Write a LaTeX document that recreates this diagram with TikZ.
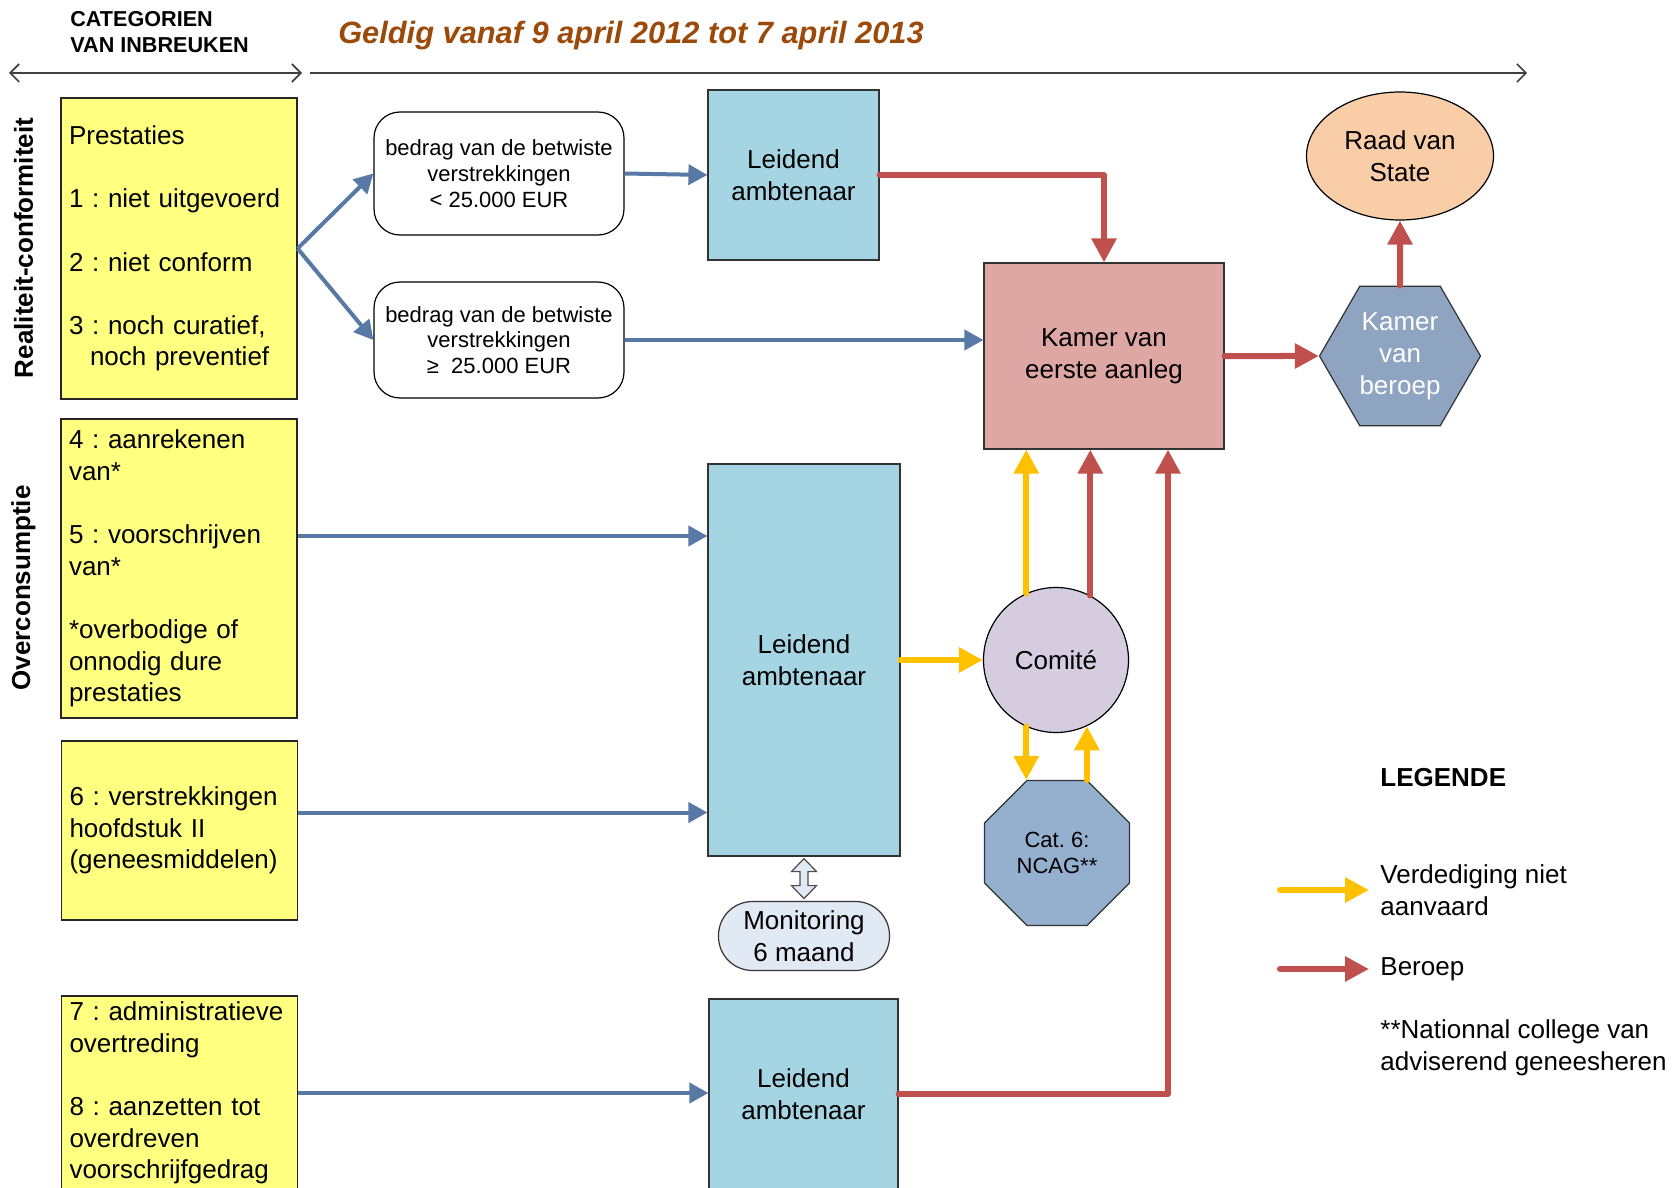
\documentclass[tikz,border=0pt]{standalone}
\usepackage{fontspec}
\setmainfont{Liberation Sans}
\usetikzlibrary{arrows.meta,shapes.geometric,calc}
\frenchspacing

\definecolor{catyellow}{HTML}{FFFF80}
\definecolor{ambtblue}{HTML}{A5D5E2}
\definecolor{kamerred}{HTML}{DFA7A3}
\definecolor{beroepblue}{HTML}{8EA4C1}
\definecolor{raadpeach}{HTML}{F9CDA7}
\definecolor{comitelilac}{HTML}{D6CCE0}
\definecolor{ncagblue}{HTML}{95AFCF}
\definecolor{monblue}{HTML}{E1E9F4}
\definecolor{flowblue}{HTML}{5878A6}
\definecolor{beroepred}{HTML}{C0504D}
\definecolor{verdyellow}{HTML}{FFC000}
\definecolor{titlebrown}{HTML}{9C4A0A}

\begin{document}
\begin{tikzpicture}[
  x=0.5pt,y=-0.5pt,
  every node/.style={inner sep=0pt,font=\fontsize{13}{15.8}\selectfont},
  catbox/.style={draw=black!85,line width=0.6pt,fill=catyellow,align=left,text width=110pt,inner xsep=4pt,minimum width=118pt},
  amountbox/.style={draw=black,line width=0.6pt,fill=white,rounded corners=13pt,align=center,minimum width=125pt,font=\fontsize{11}{12.85}\selectfont},
  ambtbox/.style={draw=black!80,line width=0.6pt,fill=ambtblue,align=center},
  sidelabel/.style={rotate=90,font=\fontsize{13}{15.8}\bfseries},
  legendtext/.style={anchor=west,align=left},
  flow/.style={-{Triangle[length=9.5pt,width=10pt]},line width=2pt,flowblue},
  appeal/.style={-{Triangle[length=12pt,width=12pt]},line width=3pt,line cap=round,line join=round,beroepred},
  defence/.style={-{Triangle[length=12pt,width=12pt]},line width=3pt,line cap=round,verdyellow},
  span/.style={line width=0.8pt,black!75}
]
  \useasboundingbox (0,0) rectangle (1677,1188);

  % heading and time line
  \node[anchor=west,align=left,font=\fontsize{10.8}{13}\bfseries] (cathead) at (70,32) {CATEGORIEN\\VAN INBREUKEN};
  \node[font=\fontsize{15.4}{18}\bfseries\itshape,text=titlebrown] (title) at (631,36) {Geldig vanaf 9 april 2012 tot 7 april 2013};
  \coordinate (catL) at (9,73);
  \coordinate (catR) at (302,73);
  \coordinate (timeL) at (310,73);
  \coordinate (timeR) at (1527,73);
  \draw[span,{Straight Barb[length=4.5pt,width=9pt]}-{Straight Barb[length=4.5pt,width=9pt]}] (catL) -- (catR);
  \draw[span,-{Straight Barb[length=4.5pt,width=9pt]}] (timeL) -- (timeR);

  \node[sidelabel] (realcat) at (23.5,248) {Realiteit-conformiteit};
  \node[sidelabel] (overcat) at (23.5,588) {Overconsumptie};

  % categories
  \node[catbox,minimum height=150.5pt] (Y1) at (179,248.5) {Prestaties\\[15.8pt]1 : niet uitgevoerd\\[15.8pt]2 : niet conform\\[15.8pt]3 : noch curatief,\\\hspace*{10.5pt}noch preventief};
  \node[catbox,minimum height=149.5pt] (Y2) at (179,568.5) {4 : aanrekenen\\van*\\[15.8pt]5 : voorschrijven\\van*\\[15.8pt]*overbodige of\\onnodig dure\\prestaties};
  \node[catbox,minimum height=89.5pt] (Y3) at (179.5,830.5) {6 : verstrekkingen\\hoofdstuk II\\(geneesmiddelen)};
  \node[catbox,minimum height=97pt] (Y4) at (179.5,1093) {7 : administratieve\\overtreding\\[15.8pt]8 : aanzetten tot\\overdreven\\voorschrijfgedrag};

  % amounts
  \node[amountbox,minimum height=61.5pt] (B1) at (499,173.5) {bedrag van de betwiste\\verstrekkingen\\< 25.000 EUR};
  \node[amountbox,minimum height=58pt] (B2) at (499,340) {bedrag van de betwiste\\verstrekkingen\\≥\ \ 25.000 EUR};

  % officials
  \node[ambtbox,minimum width=85.5pt,minimum height=85pt] (L1) at (793.5,175) {Leidend\\ambtenaar};
  \node[ambtbox,minimum width=96pt,minimum height=196pt] (L2) at (804,660) {Leidend\\ambtenaar};
  \node[ambtbox,minimum width=94.5pt,minimum height=95pt] (L3) at (803.5,1094) {Leidend\\ambtenaar};
  \node[draw=black!80,line width=0.6pt,fill=monblue,rounded corners=17pt,minimum width=85.5pt,minimum height=34.5pt,align=center] (mon) at (804,936) {Monitoring\\6 maand};

  % chambers
  \node[draw=black!80,line width=0.6pt,fill=kamerred,minimum width=120pt,minimum height=93pt,align=center] (K) at (1104,356) {Kamer van\\eerste aanleg};
  \node[regular polygon,regular polygon sides=6,minimum size=80.5pt,draw=black!80,line width=0.6pt,fill=beroepblue,text=white,align=center,font=\fontsize{13}{16}\selectfont] (hex) at (1400,356) {Kamer\\van\\beroep};
  \node[ellipse,draw=black,line width=0.6pt,fill=raadpeach,minimum width=93.5pt,minimum height=64pt,align=center] (raad) at (1400,156) {Raad van\\State};
  \node[circle,draw=black,line width=0.6pt,fill=comitelilac,minimum size=72.5pt] (com) at (1056,660) {Comité};
  \node[regular polygon,regular polygon sides=8,minimum size=78.4pt,draw=black!80,line width=0.6pt,fill=ncagblue,align=center,font=\fontsize{11}{12.85}\selectfont] (oct) at (1057,853) {Cat. 6:\\NCAG**};

  % blue flows
  \draw[flow] (Y1.east) -- (B1.west);
  \draw[flow] (Y1.east) -- (B2.west);
  \draw[flow] (B1.east) -- (L1.west);
  \draw[flow] (B2.east) -- (B2.east -| K.west);
  \coordinate (y2out) at ([yshift=16.25pt]Y2.east);
  \coordinate (y3out) at ([yshift=9pt]Y3.east);
  \draw[flow] (y2out) -- (y2out -| L2.west);
  \draw[flow] (y3out) -- (y3out -| L2.west);
  \draw[flow] (Y4.east) -- (Y4.east -| L3.west);

  % monitoring link
  \draw[line width=0.6pt,draw=black!70,fill=monblue] ($(L2.south)+(0,2)$) -- ++(12.5,13) -- ++(-8.5,0) -- ++(0,14) -- ++(8.5,0) -- ++(-12.5,13) -- ++(-12.5,-13) -- ++(8.5,0) -- ++(0,-14) -- ++(-8.5,0) -- cycle;

  % appeals
  \draw[appeal] (L1.east) -| (K.north);
  \draw[appeal] (K.east) -- (hex.west);
  \draw[appeal] (hex.north) -- (raad.south);
  \draw[appeal] (com.62) -- (com.62 |- K.south);
  \draw[appeal] (L3.east) -| ([xshift=32pt]K.south);

  % defence not accepted
  \draw[defence] (L2.east) -- (com.west);
  \draw[defence] (com.114) -- (com.114 |- K.south);
  \draw[defence] (com.-114) -- (com.-114 |- oct.north);
  \draw[defence] (com.-65 |- oct.north) -- (com.-65);

  % legend
  \node[legendtext,font=\fontsize{13}{15.8}\bfseries] (leghead) at (1380,778) {LEGENDE};
  \node[legendtext] (legdef) at (1380,890) {Verdediging niet\\aanvaard};
  \node[legendtext] (legapp) at (1380,969) {Beroep};
  \node[legendtext] (legnote) at (1380,1048) {**Nationnal college van\\adviserend geneesheren};
  \coordinate (defstart) at (1280,890);
  \coordinate (appstart) at (1280,969);
  \draw[defence] (defstart) -- ([xshift=-5.5pt]legdef.west);
  \draw[appeal] (appstart) -- ([xshift=-5.5pt]legapp.west);
\end{tikzpicture}
\end{document}
